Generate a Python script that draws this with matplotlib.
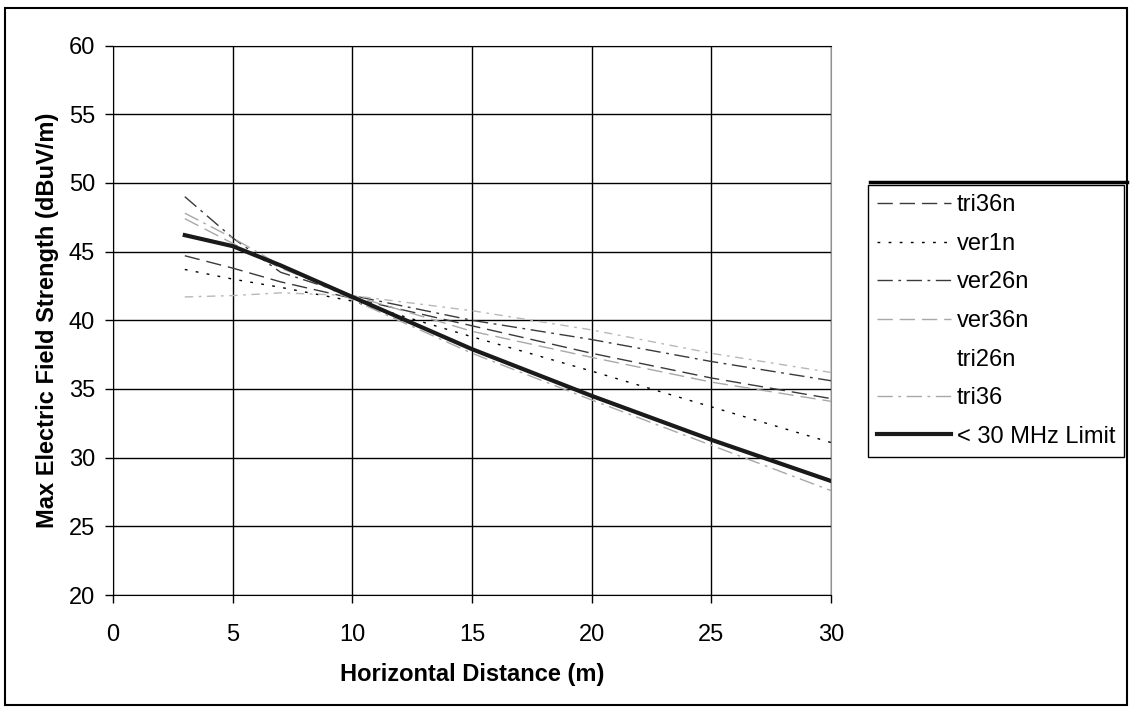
import matplotlib
matplotlib.use("Agg")
import matplotlib.pyplot as plt
from matplotlib.lines import Line2D
from matplotlib.patches import Rectangle

# distancias horizontales (m)
distance = [3, 5, 7, 10, 15, 20, 25, 30]

# intensidad de campo (dBuV/m)
tri36n = [44.7, 43.8, 42.8, 41.6, 39.6, 37.6, 35.8, 34.3]
ver1n = [43.7, 43.0, 42.4, 41.4, 38.8, 36.3, 33.7, 31.1]
ver26n = [49.0, 46.0, 43.5, 41.8, 40.0, 38.6, 37.0, 35.6]
ver36n = [47.4, 45.6, 43.8, 41.8, 39.2, 37.3, 35.5, 34.1]
tri26n = [41.7, 41.8, 42.0, 41.8, 40.7, 39.3, 37.6, 36.2]
tri36 = [47.8, 46.0, 44.0, 41.5, 37.6, 34.2, 30.9, 27.6]
limit = [46.2, 45.4, 44.0, 41.7, 37.9, 34.5, 31.3, 28.3]

xticks = [0, 5, 10, 15, 20, 25, 30]
yticks = [20, 25, 30, 35, 40, 45, 50, 55, 60]

plt.rcParams['font.family'] = ['Liberation Sans', 'DejaVu Sans']

fig = plt.figure(figsize=(11.3, 7.1), dpi=100)
ax = fig.add_axes([113 / 1130, 1 - 595 / 710, (831 - 113) / 1130, (595 - 45.6) / 710])

dark = '#3a3a3a'
light = '#a8a8a8'
ax.plot(distance, tri36n, color=dark, lw=1.0, dashes=(11, 5), label='tri36n')
ax.plot(distance, ver1n, color='black', lw=1.0, dashes=(2, 6), label='ver1n')
ax.plot(distance, ver26n, color=dark, lw=1.0, dashes=(11, 4, 2, 4), label='ver26n')
ax.plot(distance, ver36n, color=light, lw=1.0, dashes=(11, 5), label='ver36n')
ax.plot(distance, tri26n, color='#b8b8b8', lw=1.0, dashes=(6, 4, 2, 4), label='tri26n')
ax.plot(distance, tri36, color=light, lw=1.0, dashes=(11, 4, 2, 4), label='tri36')
ax.plot(distance, limit, color='#1a1a1a', lw=3.0, label='< 30 MHz Limit')

ax.set_xlim(0, 30)
ax.set_ylim(20, 60)
ax.set_xticks(xticks)
ax.set_yticks(yticks)
ax.grid(True, color='black', lw=1.0)
ax.set_axisbelow(True)
ax.tick_params(axis='both', direction='out', length=6, width=1, labelsize=17)
ax.tick_params(axis='x', pad=15)
ax.tick_params(axis='y', pad=7)
for s in ['left', 'bottom', 'top']:
    ax.spines[s].set_color('black')
ax.spines['right'].set_color('#909090')

ax.set_xlabel('Horizontal Distance (m)', fontsize=17, fontweight='bold', labelpad=12)
ax.set_ylabel('Max Electric Field Strength (dBuV/m)', fontsize=17, fontweight='bold', labelpad=7)

leg = ax.legend(loc='upper left', bbox_to_anchor=(868 / 1130, 1 - 185 / 710),
                bbox_transform=fig.transFigure, borderaxespad=0, fontsize=17,
                frameon=True, fancybox=False, edgecolor='black', framealpha=1,
                handlelength=3.1, handletextpad=0.25, labelspacing=0.7,
                borderpad=0.4)
leg.get_frame().set_linewidth(1.0)
leg.get_lines()[4].set_visible(False)

# borde grueso sobre la leyenda y marco de la figura
fig.add_artist(Line2D([870 / 1130, 1127 / 1130], [1 - 182 / 710, 1 - 182 / 710],
                      color='black', lw=2.5, transform=fig.transFigure))
fig.add_artist(Rectangle((5 / 1130, 5 / 710), 1122 / 1130, 697 / 710, fill=False,
                         edgecolor='black', lw=1.5, transform=fig.transFigure))

fig.savefig('out.png', dpi=100)
